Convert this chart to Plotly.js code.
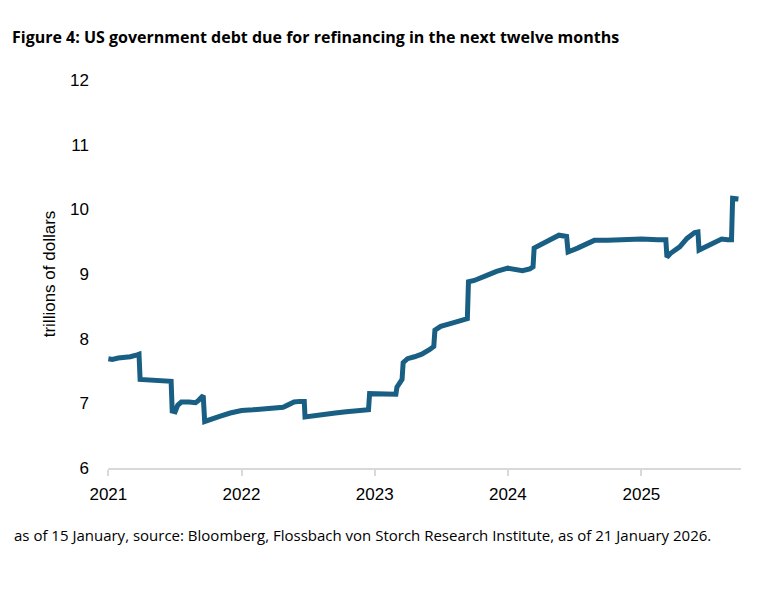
<!DOCTYPE html>
<html>
<head>
<meta charset="utf-8">
<script src="https://cdn.plot.ly/plotly-3.0.1.min.js"></script>
<style>html,body{margin:0;padding:0;background:#fff;}#chart{width:768px;height:595px;}</style>
</head>
<body>
<div id="chart"></div>
<script>
const dates = [
 '2021-01-01','2021-01-12','2021-01-28','2021-02-16','2021-03-02','2021-03-21','2021-03-26','2021-03-29',
 '2021-04-20','2021-05-15','2021-06-10','2021-06-22','2021-06-25','2021-07-03','2021-07-10','2021-07-20',
 '2021-08-10','2021-08-28','2021-09-06','2021-09-18','2021-09-22','2021-10-05','2021-11-02','2021-12-01',
 '2022-01-01','2022-02-01','2022-03-01','2022-04-01','2022-04-25','2022-05-10','2022-05-25','2022-06-10',
 '2022-06-22','2022-06-24','2022-07-15','2022-08-15','2022-09-15','2022-10-15','2022-11-15','2022-12-15',
 '2022-12-18','2023-01-15','2023-02-15','2023-02-28','2023-03-03','2023-03-10','2023-03-17','2023-03-20',
 '2023-04-01','2023-04-20','2023-05-10','2023-05-31','2023-06-12','2023-06-15','2023-07-01','2023-08-01',
 '2023-09-01','2023-09-12','2023-09-15','2023-10-01','2023-11-01','2023-12-01','2024-01-01','2024-01-20',
 '2024-02-10','2024-03-01','2024-03-10','2024-03-13','2024-04-01','2024-05-01','2024-05-20','2024-06-10',
 '2024-06-14','2024-07-10','2024-08-10','2024-08-25','2024-10-01','2024-11-15','2025-01-01','2025-02-15',
 '2025-03-09','2025-03-12','2025-03-22','2025-04-16','2025-05-06','2025-05-27','2025-06-05','2025-06-08',
 '2025-06-25','2025-07-18','2025-08-09','2025-08-25','2025-09-05','2025-09-08','2025-09-24'
];
const debtTrillions = [
 7.69,7.68,7.70,7.71,7.72,7.75,7.76,7.37,
 7.36,7.35,7.35,7.34,6.88,6.87,6.97,7.02,
 7.02,7.01,7.05,7.12,6.72,6.75,6.80,6.85,
 6.89,6.90,6.91,6.92,6.94,6.98,7.02,7.03,
 7.03,6.79,6.81,6.83,6.85,6.87,6.88,6.90,
 7.15,7.14,7.13,7.14,7.25,7.30,7.37,7.63,
 7.69,7.72,7.76,7.83,7.88,8.13,8.19,8.24,
 8.29,8.31,8.88,8.90,8.97,9.04,9.09,9.07,
 9.05,9.08,9.11,9.40,9.46,9.54,9.60,9.58,
 9.34,9.40,9.48,9.52,9.52,9.53,9.54,9.53,
 9.53,9.26,9.32,9.42,9.55,9.64,9.65,9.37,
 9.42,9.48,9.54,9.53,9.53,10.17,10.16
];
const yearTicks = ['2021-01-01','2022-01-01','2023-01-01','2024-01-01','2025-01-01'];
const yearLabels = ['2021','2022','2023','2024','2025'];
const titleText = 'Figure 4: US government debt due for refinancing in the next twelve months';
const yTitle = 'trillions of dollars';
const sourceText = 'as of 15 January, source: Bloomberg, Flossbach von Storch Research Institute, as of 21 January 2026.';

const trace = {
  x: dates, y: debtTrillions, type: 'scatter', mode: 'lines',
  line: {color: '#195E83', width: 5},
  hoverinfo: 'skip'
};
const layout = {
  width: 768, height: 595,
  margin: {l: 108, r: 27, t: 80, b: 127},
  paper_bgcolor: '#ffffff', plot_bgcolor: '#ffffff',
  showlegend: false,
  font: {family: 'Liberation Sans, Arial, sans-serif', color: '#000000', size: 17},
  title: {
    text: '<b>' + titleText + '</b>',
    font: {family: 'Open Sans, Calibri, sans-serif', size: 16, color: '#000000'},
    x: 12/768, xref: 'container', xanchor: 'left',
    y: 1 - 37/595, yref: 'container', yanchor: 'middle'
  },
  xaxis: {
    type: 'date', range: ['2020-12-31', '2025-10-01'],
    tickvals: yearTicks, ticktext: yearLabels,
    showgrid: false, zeroline: false,
    showline: true, linecolor: '#D9D9D9', linewidth: 2,
    ticks: 'outside', ticklen: 6, tickwidth: 2, tickcolor: '#D9D9D9',
    tickfont: {size: 17, color: '#000'}, ticklabelstandoff: 4
  },
  yaxis: {
    range: [6, 12], dtick: 1, tick0: 6,
    showgrid: false, zeroline: false, showline: false, ticks: '',
    tickfont: {size: 17, color: '#000'}, ticklabelstandoff: 18,
    title: {text: yTitle, font: {size: 17, color: '#000'}, standoff: 10}
  },
  annotations: [{
    text: sourceText, xref: 'paper', yref: 'paper',
    x: -96/633, y: -67/388, xanchor: 'left', yanchor: 'middle',
    showarrow: false, font: {family: 'Open Sans, Calibri, sans-serif', size: 15, color: '#000'}
  }]
};
Plotly.newPlot('chart', [trace], layout, {staticPlot: true, displayModeBar: false});
</script>
</body>
</html>
